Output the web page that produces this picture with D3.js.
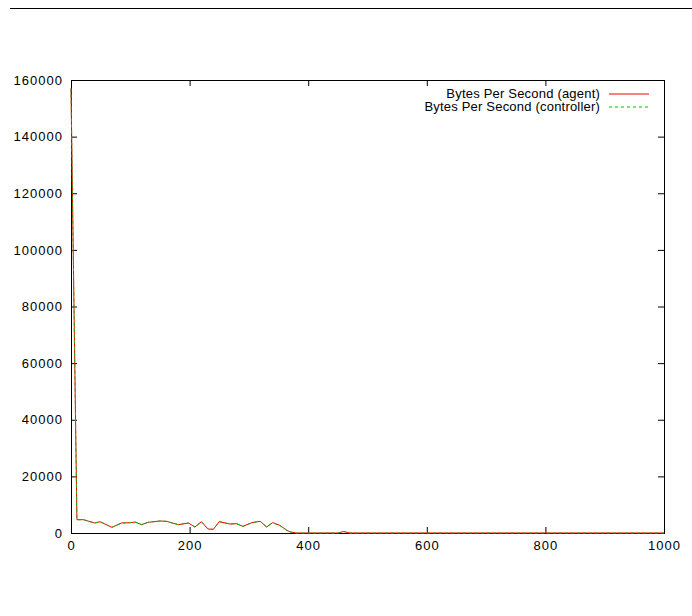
<!DOCTYPE html>
<html>
<head>
<meta charset="utf-8">
<script src="https://cdn.jsdelivr.net/npm/d3@7"></script>
<style>
  body { margin: 0; background: #fff; }
  svg { display: block; font-family: "Liberation Sans", Arial, Helvetica, sans-serif; }
  .tick line { stroke: #000; }
  .tick text { font-size: 13px; fill: #000; letter-spacing: 1px; }
  .legend text { font-size: 13px; fill: #000; letter-spacing: 0.2px; }
</style>
</head>
<body>
<svg width="692" height="616"></svg>
<script>
// seconds / bytes per second
var times = [0, 10, 21, 40, 49, 69, 85, 100, 108, 119, 130, 150, 161, 181, 198, 209, 220,
             231, 240, 250, 268, 279, 290, 305, 319, 330, 340, 352, 364, 370, 380,
             450, 460, 470, 1000];
var agentBps = [157000, 4700, 4700, 3530, 4000, 2000, 3530, 3650, 3880, 2940, 3770, 4240, 4120,
                2940, 3530, 2120, 4000, 1410, 1300, 4000, 3180, 3300, 2350, 3650, 4120, 2120,
                3650, 2700, 940, 350, 0, 0, 550, 0, 0];
var controllerBps = [157000, 4700, 4700, 3530, 4000, 2000, 3530, 3650, 3880, 2940, 3770, 4240, 4120,
                     2940, 3530, 2120, 4000, 1410, 1300, 4000, 3180, 3300, 2350, 3650, 4120, 2120,
                     3650, 2700, 940, 350, 0, 0, 550, 0, 0];
var seriesNames = ["Bytes Per Second (agent)", "Bytes Per Second (controller)"];
var xTicks = [0, 200, 400, 600, 800, 1000];
var yTicks = [0, 20000, 40000, 60000, 80000, 100000, 120000, 140000, 160000];

var svg = d3.select("svg");
var plotLeft = 71, plotRight = 664, plotTop = 80, plotBottom = 533;

// rule across the top of the page
svg.append("line")
    .attr("x1", 10).attr("x2", 692)
    .attr("y1", 8.5).attr("y2", 8.5)
    .attr("stroke", "#000").attr("stroke-width", 1);

var x = d3.scaleLinear().domain([0, 1000]).range([plotLeft, plotRight]);
var y = d3.scaleLinear().domain([0, 160000]).range([plotBottom, plotTop]);

// axes, ticks pointing inward like gnuplot
svg.append("g")
    .attr("transform", "translate(0," + plotBottom + ")")
    .call(d3.axisBottom(x).tickValues(xTicks).tickSize(-6).tickPadding(8).tickFormat(d3.format("d")))
    .call(g => g.select(".domain").remove());

svg.append("g")
    .attr("transform", "translate(" + plotLeft + ",0)")
    .call(d3.axisLeft(y).tickValues(yTicks).tickSize(-6).tickPadding(8).tickFormat(d3.format("d")))
    .call(g => g.select(".domain").remove());

// mirrored ticks
svg.append("g")
    .attr("transform", "translate(0," + plotTop + ")")
    .call(d3.axisTop(x).tickValues(xTicks).tickSize(-6).tickFormat(""))
    .call(g => g.select(".domain").remove());

svg.append("g")
    .attr("transform", "translate(" + plotRight + ",0)")
    .call(d3.axisRight(y).tickValues(yTicks).tickSize(-6).tickFormat(""))
    .call(g => g.select(".domain").remove());

svg.selectAll(".tick text").attr("font-family", null).attr("font-size", null);

// frame
svg.append("rect")
    .attr("x", plotLeft + 0.5).attr("y", plotTop + 0.5)
    .attr("width", plotRight - plotLeft).attr("height", plotBottom - plotTop)
    .attr("fill", "none").attr("stroke", "#000").attr("stroke-width", 1);

var line = d3.line()
    .x(d => x(d[0]))
    .y(d => y(d[1]));

svg.append("path")
    .datum(d3.zip(times, agentBps))
    .attr("d", line)
    .attr("fill", "none")
    .attr("stroke", "#ff0000")
    .attr("stroke-width", 1);

svg.append("path")
    .datum(d3.zip(times, controllerBps))
    .attr("d", line)
    .attr("fill", "none")
    .attr("stroke", "#00c000")
    .attr("stroke-width", 1)
    .attr("stroke-dasharray", "3,3");

// legend
var legend = svg.append("g").attr("class", "legend");
var colors = ["#ff0000", "#00c000"];
var dashes = [null, "3,3"];
seriesNames.forEach(function(name, i) {
    var ly = 93.5 + i * 13;
    legend.append("text")
        .attr("x", 600).attr("y", ly)
        .attr("dy", "0.35em")
        .attr("text-anchor", "end")
        .text(name);
    legend.append("line")
        .attr("x1", 609).attr("x2", 649)
        .attr("y1", ly + 0.5).attr("y2", ly + 0.5)
        .attr("stroke", colors[i])
        .attr("stroke-width", 1)
        .attr("stroke-dasharray", dashes[i]);
});
</script>
</body>
</html>
